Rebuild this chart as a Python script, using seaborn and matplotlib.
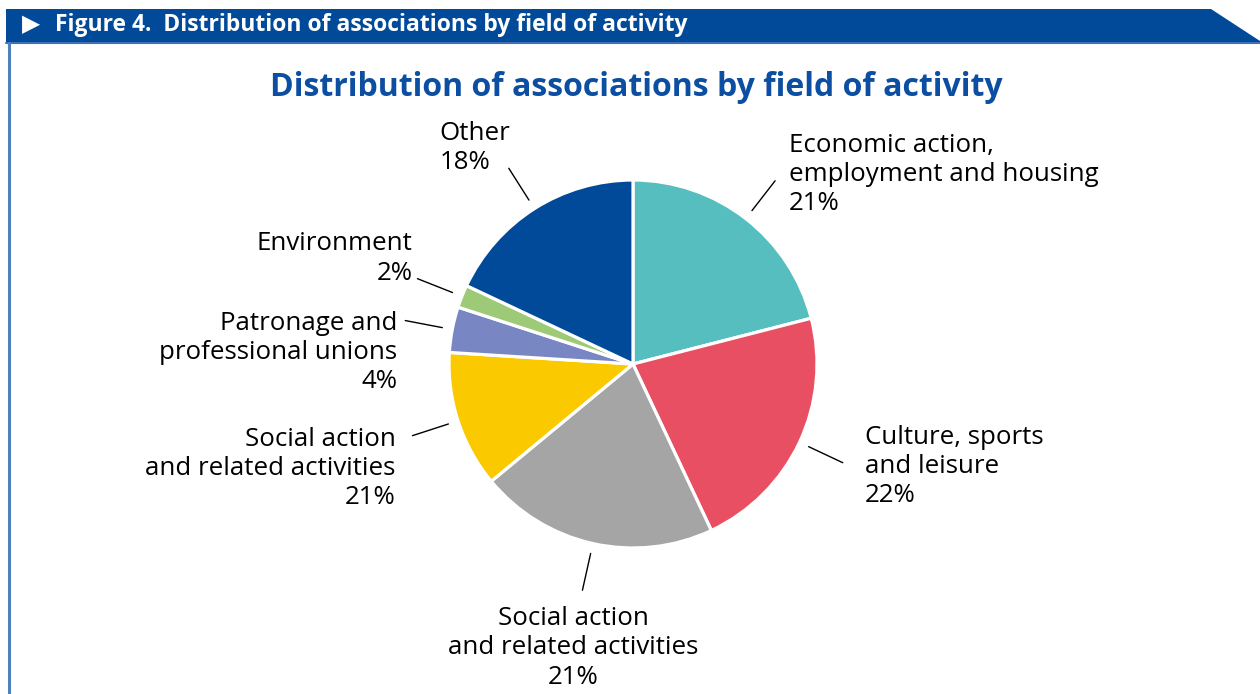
import numpy as np
import matplotlib
matplotlib.use('Agg')
import matplotlib.pyplot as plt
import seaborn as sns
from matplotlib.patches import Polygon

sns.set_style('white')
plt.rcParams['font.family'] = ['Open Sans', 'DejaVu Sans']

# Data
categories = ['Economic action,\nemployment and housing', 'Culture, sports\nand leisure',
              'Social action\nand related activities', 'Social action\nand related activities',
              'Patronage and\nprofessional unions', 'Environment', 'Other']
shares = [21, 22, 21, 12, 4, 2, 18]
pct_labels = ['21%', '22%', '21%', '21%', '4%', '2%', '18%']
colors = ['#56BEBE', '#E94F62', '#A5A5A5', '#FBC900', '#7986C4', '#9DCA76', '#004A99']

W, H = 1260, 694
fig = plt.figure(figsize=(W / 100, H / 100), dpi=100)

# background / frame in pixel coordinates
bg = fig.add_axes([0, 0, 1, 1])
bg.set_xlim(0, W)
bg.set_ylim(H, 0)
bg.axis('off')
bg.add_patch(Polygon([(6, 9), (1211, 9), (1260, 41), (1260, 42), (6, 42)],
                     closed=True, facecolor='#004A99', edgecolor='none'))
bg.plot([6, 1260], [43, 43], color='#3F72B5', lw=1.5)
bg.plot([9, 9], [43, H], color='#4F81BD', lw=2.2)
bg.text(22, 24, '\u25B6', color='white', fontsize=17, va='center', ha='left',
        family=['DejaVu Sans'])
bg.text(55, 25, 'Figure 4.  Distribution of associations by field of activity', color='white',
        fontsize=16.5, fontweight='bold', va='center', ha='left')
bg.text(636, 87, 'Distribution of associations by field of activity', color='#0B4EA2',
        fontsize=23, fontweight='bold', va='center', ha='center')

# pie axes: 1 data unit = radius in pixels
cx, cy, r = 633, 364, 184
ax = fig.add_axes([0, 0, 1, 1])

wedges, _ = ax.pie(shares, colors=colors, startangle=90, counterclock=False, radius=1,
                   wedgeprops=dict(edgecolor='white', linewidth=2.3))
ax.set_aspect('auto')
ax.set_xlim(-cx / r, (W - cx) / r)
ax.set_ylim(-(H - cy) / r, cy / r)
ax.axis('off')

# label placement: (ha, va, multialign, dx px, dy px) relative to leader end
placement = [('left', 'center', 'left', 14, 6),
             ('left', 'center', 'left', 22, -4),
             ('center', 'top', 'center', -9, -16),
             ('right', 'top', 'right', -17, 9),
             ('right', 'top', 'right', -8, 10),
             ('right', 'bottom', 'right', -5, -7),
             ('left', 'bottom', 'left', -69, -7)]

for w, cat, pct, (ha, va, ma, dx, dy) in zip(wedges, categories, pct_labels, placement):
    mid = np.deg2rad((w.theta1 + w.theta2) / 2)
    x0, y0 = 1.055 * np.cos(mid), 1.055 * np.sin(mid)
    x1, y1 = 1.26 * np.cos(mid), 1.26 * np.sin(mid)
    ax.plot([x0, x1], [y0, y1], color='black', lw=1)
    ax.annotate(cat + '\n' + pct, xy=(x1, y1), xytext=(dx, dy), textcoords='offset pixels',
                ha=ha, va=va, multialignment=ma, fontsize=18.6, color='black',
                linespacing=1.22)

fig.savefig('out.png', dpi=100)
